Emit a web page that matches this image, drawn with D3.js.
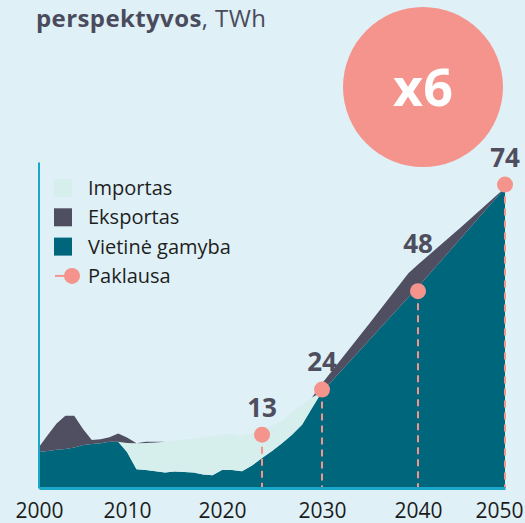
<!DOCTYPE html>
<html>
<head>
<meta charset="utf-8">
<script src="https://cdn.jsdelivr.net/npm/d3@7"></script>
<style>
  body { margin: 0; background: #dff0f7; }
  svg { display: block; }
  text { font-family: "Open Sans", sans-serif; }
</style>
</head>
<body>
<svg id="chart"></svg>
<script>
// elektros balansas, TWh (nuskaityta nuo paveikslo)
const years = [2000,2001,2002,2003,2004,2005,2006,2007,2008,2009,
               2010,2011,2012,2013,2014,2015,2016,2017,2018,2019,
               2020,2021,2022,2023,2024,2025,2026,2027,2028,2029,
               2030,2035,2039,2040,2045,2050];
const production = [8.8,9.0,9.3,9.5,9.9,10.5,10.7,10.9,11.3,11.3,
                    8.8,4.6,4.4,4.1,3.8,4.0,3.9,3.8,3.3,3.1,
                    4.4,4.4,4.1,5.5,7.3,9.0,10.9,13.0,15.4,19.5,
                    23.5,36.3,46.5,49.0,61.1,73.2];
const imports = [0,0,0,0,0,0,0,0,0,0,
                 2.2,6.3,6.6,7.0,7.5,7.6,7.9,8.3,9.1,9.6,
                 8.5,8.8,8.6,7.9,7.0,6.2,5.4,5.5,4.8,2.6,
                 0,0,0,0,0,0];
const exportsTWh = [1.2,3.9,6.4,8.1,7.7,3.9,1.0,1.0,1.1,2.0,
                    1.3,0,0.3,0.2,0,0,0,0,0,0,
                    0,0,0,0,0,0,0,0,0,0,
                    2.0,4.0,5.9,5.5,2.6,0];

const demandYears = [2024, 2030, 2040, 2050];
const demandValues = [13, 24, 48, 74];

const tickYears = [2000, 2010, 2020, 2030, 2040, 2050];
const seriesKeys = ['production', 'imports', 'exports'];
const legendLabels = ['Importas', 'Eksportas', 'Vietinė gamyba', 'Paklausa'];

const colors = {
  production: '#00667c',
  imports: '#d6eeec',
  exports: '#4f4f61',
  demand: '#f4948d',
  axis: '#1aa6c9',
  label: '#4f4e5e'
};

const width = 525, height = 523;

const svg = d3.select('#chart')
  .attr('width', width)
  .attr('height', height);

// piecewise x, the original years are not spaced evenly
const x = d3.scaleLinear()
  .domain(tickYears)
  .range([39, 127, 222, 322, 418, 505]);

const y = d3.scaleLinear()
  .domain([0, 79.5])
  .range([488, 162]);

const table = years.map((yr, i) => ({
  year: yr,
  production: production[i],
  imports: imports[i],
  exports: exportsTWh[i]
}));

const stacked = d3.stack().keys(seriesKeys)(table);

const area = d3.area()
  .x(d => x(d.data.year))
  .y0(d => y(d[0]))
  .y1(d => y(d[1]));

svg.append('g')
  .selectAll('path')
  .data(stacked)
  .join('path')
  .attr('fill', d => colors[d.key])
  .attr('d', area);

// demand points
const demand = demandYears.map((yr, i) => {
  const row = table.find(r => r.year === yr);
  const top = row.production + row.imports + row.exports;
  return { year: yr, value: demandValues[i], top: top };
});

svg.append('g')
  .selectAll('line')
  .data(demand)
  .join('line')
  .attr('x1', d => x(d.year))
  .attr('x2', d => x(d.year))
  .attr('y1', d => y(d.value))
  .attr('y2', y(0))
  .attr('stroke', colors.demand)
  .attr('stroke-width', 2)
  .attr('stroke-dasharray', '7,5');

svg.append('g')
  .selectAll('circle')
  .data(demand)
  .join('circle')
  .attr('cx', d => x(d.year))
  .attr('cy', d => y(d.value))
  .attr('r', 8)
  .attr('fill', colors.demand);

svg.append('g')
  .selectAll('text')
  .data(demand)
  .join('text')
  .attr('x', d => x(d.year))
  .attr('y', d => Math.min(y(d.value) - 18, y(d.top) - 12))
  .attr('text-anchor', 'middle')
  .attr('font-size', 26)
  .attr('font-weight', 700)
  .attr('fill', colors.label)
  .text(d => d.value);

// axes
const xAxis = d3.axisBottom(x)
  .tickValues(tickYears)
  .tickFormat(d3.format('d'))
  .tickSize(0)
  .tickPadding(15);

const xg = svg.append('g')
  .attr('transform', `translate(0,${y(0)})`)
  .call(xAxis);
xg.select('.domain').attr('stroke', colors.axis).attr('stroke-width', 3);
xg.selectAll('text')
  .attr('font-size', 21)
  .attr('font-family', '"Open Sans", sans-serif')
  .attr('fill', '#1c1c1c');
xg.selectAll('.tick:last-of-type text').attr('dx', -6);

const yAxis = d3.axisLeft(y).tickValues([]).tickSizeOuter(0);
const yg = svg.append('g')
  .attr('transform', 'translate(38.5,0)')
  .call(yAxis);
yg.select('.domain').attr('stroke', colors.axis).attr('stroke-width', 2);

// legend
const legend = svg.append('g').attr('transform', 'translate(54,179)');
const legendColors = [colors.imports, colors.exports, colors.production];
legendLabels.forEach((lab, i) => {
  const g = legend.append('g').attr('transform', `translate(0,${i * 29.3})`);
  if (i < 3) {
    g.append('rect')
      .attr('width', 18)
      .attr('height', 18)
      .attr('fill', legendColors[i]);
  } else {
    g.append('line')
      .attr('x1', 1).attr('x2', 17)
      .attr('y1', 9).attr('y2', 9)
      .attr('stroke', colors.demand)
      .attr('stroke-width', 2);
    g.append('circle')
      .attr('cx', 18).attr('cy', 9).attr('r', 8)
      .attr('fill', colors.demand);
  }
  g.append('text')
    .attr('x', 34)
    .attr('y', 9)
    .attr('dy', '0.35em')
    .attr('font-size', 20)
    .attr('fill', '#1e1e1e')
    .text(lab);
});

// big badge
svg.append('circle')
  .attr('cx', 423)
  .attr('cy', 87)
  .attr('r', 80)
  .attr('fill', colors.demand);
svg.append('text')
  .attr('x', 423)
  .attr('y', 87)
  .attr('dy', '0.36em')
  .attr('text-anchor', 'middle')
  .attr('font-size', 52)
  .attr('font-weight', 700)
  .attr('fill', '#ffffff')
  .text('x6');

// title line
const title = svg.append('text')
  .attr('x', 36)
  .attr('y', 27)
  .attr('font-size', 24)
  .attr('letter-spacing', 0.4)
  .attr('fill', '#4a4b5c');
title.append('tspan').attr('font-weight', 700).text('perspektyvos');
title.append('tspan').text(', TWh');
</script>
</body>
</html>
